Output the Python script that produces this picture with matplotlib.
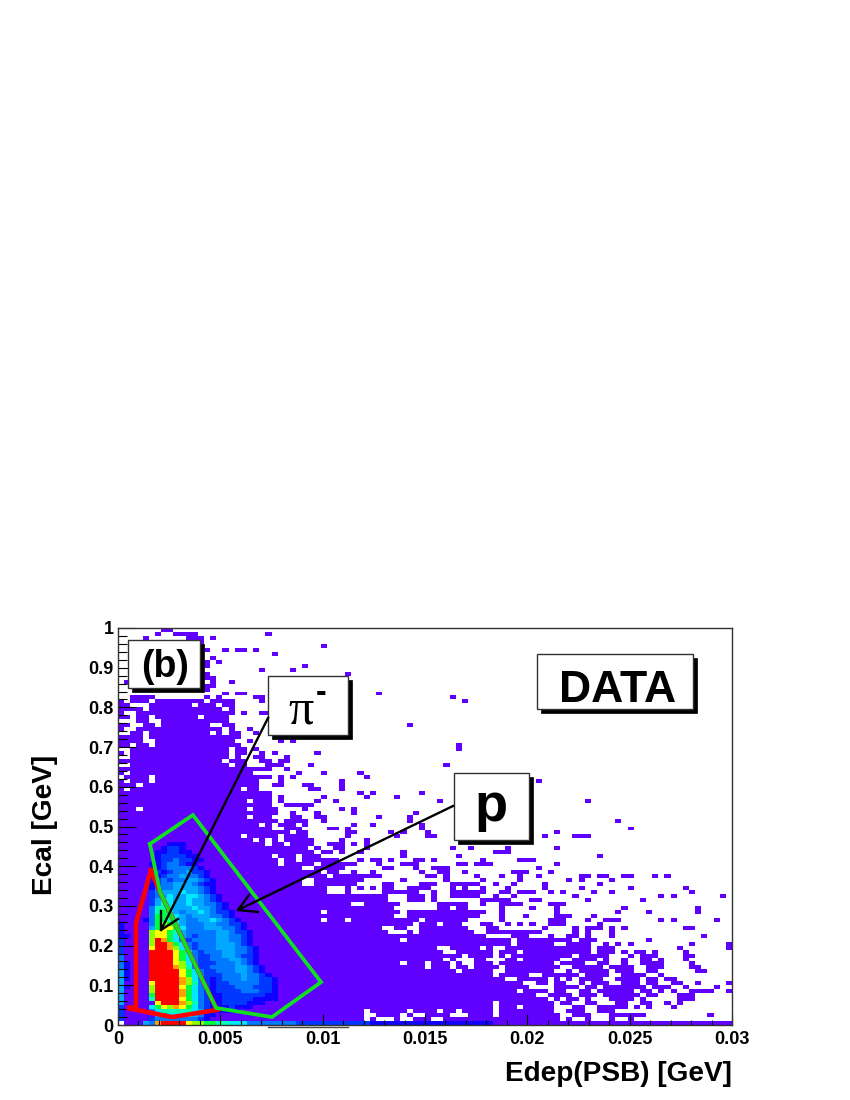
import numpy as np
import matplotlib
matplotlib.use("Agg")
import matplotlib.pyplot as plt
from matplotlib.colors import ListedColormap
from matplotlib.patches import Rectangle
from matplotlib.ticker import MultipleLocator

plt.rcParams['font.family'] = ['Liberation Sans', 'DejaVu Sans']

# occupied cells of the 100x100 histogram, row 99 (top) down to row 0, as column runs
OCCUPIED = [
    "7-8",
    "6 9-12 24",
    "4 11-13 15",
    "13",
    "13 33",
    "14 17 19-20 22",
    "25",
    "15",
    "14 16",
    "14 30",  # row 90
    "23 28",
    "14 37",
    "14-15",
    "1 15 18",
    "14-15",
    "14",
    "17 19-20 42",
    "2-5 14 16 22-23 54",
    "0 2-4 6-13 15-17 18 23 56",
    "0-1 5-11 13-15 17-18",  # row 80
    "0-3 5-13 14-16 18",
    "0 3-5 6-15 16-18 20 23-24",
    "0-1 3-4 6-12 14-17",
    "3-4 7-17",
    "0-1 4-5 7-14 17-18 47",
    "0 3-16 18 21",
    "2-3 5-14 16 18-19 22",
    "0-3 5-18 19",
    "0-3 6-18 21 26 28",
    "0-1 3-4 6-19 55",  # row 70
    "2-17 19-20 22 55",
    "0 2-17 19-20 23 25 32",
    "2-17 19 22-23 27",
    "0-1 2-16 18-20 23-24 26-27",
    "2-17 19-20 24-26 31 53",
    "0-1 2-24 27",
    "0 2-21 29 33 39",
    "1-4 6-23 24 26 28 40",
    "0 2-4 6-22 26 36 68",
    "0-2 4-18 19-22 25-26 30-31 36",  # row 60
    "0 2-19 21-22 31-32 36",
    "0-24 39 41 49",
    "0-24 26 33 40 45",
    "0-20 22-24 26 32 35 52 76",
    "0-24 27-31",
    "0-2 4-20 22-25 30 36 38",
    "0-25 28 32 38 48",
    "0-20 22-24 28-29 32-33 42 47",
    "0-25 27-30 33 47 81",
    "0-22 24 26-28 30 38 41 49",  # row 50
    "0-24 27-29 34-35 37 49 83",
    "0-25 26-27 29-30 37-38 44 46 50 71",
    "0-19 21-25 27-30 37 45 50-51 69 74-76",
    "0-21 23 25 27-31 36 40",
    "0-23 25-26 28-31 34-36 38 40",
    "0-30 32 35-36 40 54 57 63 71",
    "0-31 33-34 36 39 46 61-63",
    "0-24 26-28 30-32 46 55 78",
    "0-25 27-28 30-35 39 41-42 44 48-49 51 59 65-67",
    "0-25 27-31 33-38 42 46-48 55-56 58-60 71",  # row 40
    "0-29 32-36 43-44 48 51-53 68",
    "0-32 34-35 38 41 49 52-53 56 64-66 70",
    "0-33 35-42 50-51 53 58 62 65 68 75-76 78-79 82-83 87 89",
    "0-29 32-39 46 53 59 65 73 75 80",
    "0-29 32-38 43-44 49-51 54-58 61 64 69 78",
    "0-33 37 39 41 43-44 47-50 54 56 59 63 69 75 83 92",
    "0-33 37 43-48 51 54-59 62-63 65-67 70 72 77 80 93",
    "0-43 47-49 51 54-58 61 64 74 88 90 98",
    "0-43 47-49 51 59-61 62-63 67-68 76 85",
    "0-37 40-45 52-56 59 62-65 70-72",  # row 30
    "0-44 52-53 55-56 62 67 71 82 94",
    "0-32 34-45 47-59 62 71 81 86 94",
    "0-44 47-58 62 66 71-73 77",
    "0-32 34-36 38-48 50-56 62 70-72 76 79-81 88 90 97",
    "0-47 49-51 53-55 59-60 63 65 67 70-72 78",
    "0-42 45-46 49-56 60-61 69 74 76-78 80 82 92-93",
    "0-43 47 49-57 60-68 74 76 80",
    "0-59 64-66 70 73-74 76 80 95",
    "0-45 47-63 65-73 75-77 86",
    "0-63 65-70 73-76 79 81 83 93 99",  # row 20
    "0-51 54-58 60 63-73 74-76 78-80 91 99",
    "0-52 55-60 62-64 66-76 78-80 82 84-85 87 92",
    "0-55 57-60 62 64-73 75-79 83 85-87 92-93",
    "0-52 54 58-59 63-64 66-71 74-77 79 82 85-86 88 92",
    "0-45 47-49 51-53 55 58-60 62-70 72-75 78-79 82 85-88 93",
    "0-49 51-53 55-56 58-61 63-71 74-78 80-83 86-88 93-94",
    "0-54 56-60 63-70 73 75-79 81-83 86-87 94-95",
    "0-60 62-66 69-74 76-79 82-85 88",
    "0-62 65-69 71 73 75-78 81-84 86-87 89-90",
    "0-65 68-69 71-72 75 77-79 82-84 86-87 90-91 94 99",  # row 10
    "0-66 71-74 76-77 79-85 87-89 92 97",
    "0-64 66-69 71 72 75-76 78-83 85-86 88 90 93-94 95-96 99",
    "0-67 70-73 75-77 79-84 86-87 91-93",
    "0-69 71 73-74 76 80-83 85 91-93",
    "0-60 62-70 72-73 76-77 81-82 85-86 89 91",
    "0-60 62-64 66-70 74-75 78-82 84 86 90",
    "0-39 41-46 48-51 53-54 56-60 62-70 73-75 78-80",
    "0-39 42-45 47 50-53 57-60 62-71 74-76 80-83 84-85 96",
    "0-39 41 45 48-50 53-71 73 76 80 83",
    "0-99",  # row 0
]

# colour level of the dense core, row 45 down to row 0, starting at column 0
# '.' keeps the plain occupied colour
CORE = [
    "........bbb",
    ".......bccb",
    "......bbccbb",
    "......bccccbb",
    "......bccdccbb",
    ".....bbcddcbb",
    ".....bbcddddcb",
    ".....bcbcddeccb",
    ".....bbcddeddcb",
    ".....bcdcddeedcb",
    ".....bcddeeedcbb",
    ".....bdddeeeedcb",
    ".....cdeeefeedcb",
    ".....cdefeeffedcb",
    ".....cegfeefeedcb",
    ".....cegfeefeeddcb",
    ".....dggfeeefeedcb",
    ".....dghfedeefedccb",
    ".....dhhgfedeeeddcb",
    "....bdhhgfeddeefedcb",
    "b....dhihgedddeeddccb",
    "b....ehjjhfdddeeeddcb",
    "b....ijjhgedddddeedccb",
    "bb...ijjhfedcdddeeddcb",
    "c....imkhfdcddddeeddcb",
    "c....immkhfdcdddeeedcb",
    "c....jmmkifdcdddeeeddcb",
    "c....mmmmjhfdcdddeeddcb",
    "d....mmmmjhfdccddeedccb",
    "d....mmmmjhfdccdddeedcb",
    "db...mmmmjifdcccdddedcb",
    "db...mmmmkigdccddddeedcb",
    "eb...mmmmmjhfdccdddeedcb",
    "eb...mmmmmjhfdcccdddeddcb",
    "eb...mmmmmkifdcbcdddeddccb",
    "e....jmmmmkigdcbccdddddccb",
    "eb...immmmjhfdcbcccdddcccb",
    "e....immmmkhfdcbccccdddccb",
    "e....hmmmmkhfdcbbcccccccbb",
    "e....gmmmmjhfdcbbcccccbbbb",
    "e.....jmmmkigdcbbccccbbb",
    "c....fhjikjhfdcbbbcbbb",
    "c....dfgggggfecbbbbb",
    "c.....eeffffedbb",
    "c....cdddddddcb",
    "....edkmmmmjiihhggfffdddddddd" + "c" * 12 + "b" * 20,
]

LEVELS = ".abcdefghijkm"
PALETTE = ["#6000ff", "#1000ff", "#0038ff", "#0078ff", "#00a8ff", "#00e8ff",
           "#00ffb0", "#00ff40", "#90ff00", "#ffff00", "#ffa000", "#ff0000"]

GREEN_X = [0.00156, 0.00366, 0.00992, 0.00752, 0.00479, 0.00205, 0.00156]
GREEN_Y = [0.456, 0.529, 0.108, 0.020, 0.043, 0.335, 0.456]
RED_X = [0.00161, 0.00088, 0.00088, 0.00044, 0.00264, 0.00484, 0.00205, 0.00161]
RED_Y = [0.390, 0.257, 0.045, 0.043, 0.020, 0.038, 0.335, 0.390]

X_TICKS = [0, 0.005, 0.01, 0.015, 0.02, 0.025, 0.03]
X_LABELS = ["0", "0.005", "0.01", "0.015", "0.02", "0.025", "0.03"]
Y_TICKS = [0, 0.1, 0.2, 0.3, 0.4, 0.5, 0.6, 0.7, 0.8, 0.9, 1]
Y_LABELS = ["0", "0.1", "0.2", "0.3", "0.4", "0.5", "0.6", "0.7", "0.8", "0.9", "1"]

grid = np.zeros((100, 100), dtype=int)
for k, row in enumerate(OCCUPIED):
    for run in row.split():
        parts = run.split("-")
        grid[99 - k, int(parts[0]):int(parts[-1]) + 1] = 1
for k, row in enumerate(CORE):
    for j, c in enumerate(row):
        if c != ".":
            grid[45 - k, j] = LEVELS.index(c)
grid[0, 0] = 0

fig = plt.figure(figsize=(8.5, 11), dpi=100)
ax = fig.add_axes([118 / 850, 75 / 1100, 614 / 850, 397 / 1100])
xedges = np.linspace(0, 0.03, 101)
yedges = np.linspace(0, 1, 101)
ax.pcolormesh(xedges, yedges, np.ma.masked_equal(grid, 0), cmap=ListedColormap(PALETTE),
              vmin=0.5, vmax=12.5, antialiased=False, linewidth=0, rasterized=True)
ax.plot(RED_X, RED_Y, color="#ff0000", lw=3.3, solid_joinstyle="miter", zorder=3)
ax.plot(GREEN_X, GREEN_Y, color="#10e020", lw=2.7, solid_joinstyle="miter", zorder=4)

ax.set_xlim(0, 0.03)
ax.set_ylim(0, 1)
ax.set_xticks(X_TICKS)
ax.set_xticklabels(X_LABELS, fontsize=13, fontweight="bold")
ax.set_yticks(Y_TICKS)
ax.set_yticklabels(Y_LABELS, fontsize=13, fontweight="bold")
ax.xaxis.set_minor_locator(MultipleLocator(0.001))
ax.yaxis.set_minor_locator(MultipleLocator(0.02))
ax.tick_params(which="major", axis="x", direction="in", length=8, width=0.8, pad=4)
ax.tick_params(which="minor", axis="x", direction="in", length=3.5, width=0.8)
ax.tick_params(which="major", axis="y", direction="in", length=13, width=0.8, pad=3)
ax.tick_params(which="minor", axis="y", direction="in", length=6.5, width=0.8)
for s in ax.spines.values():
    s.set_linewidth(1)
    s.set_color("#333333")
    s.set_zorder(6)

# overlay in figure pixels for the boxes, arrows and titles
ov = fig.add_axes([0, 0, 1, 1], facecolor="none")
ov.set_xlim(0, 850)
ov.set_ylim(1100, 0)
ov.axis("off")


def box(x0, y0, x1, y1, shadow=4):
    ov.add_patch(Rectangle((x0 + shadow, y0 + shadow), x1 - x0, y1 - y0, fc="black", ec="black", lw=0.5))
    ov.add_patch(Rectangle((x0, y0), x1 - x0, y1 - y0, fc="white", ec="#333333", lw=1))


def arrow(x0, y0, x1, y1, bx0, by0, bx1, by1):
    ov.plot([x0, x1], [y0, y1], color="black", lw=1.7)
    ov.plot([bx0, x1, bx1], [by0, y1, by1], color="black", lw=1.7)


arrow(268, 718, 161, 930, 161, 911, 178, 919)
arrow(453, 806, 238, 910, 249, 895, 258, 912)

box(128, 640, 200, 688)
ov.text(165, 667, "(b)", fontsize=27, fontweight="bold", ha="center", va="center")
box(268, 676, 348, 735)
ov.text(301, 711, "\u03c0", fontsize=36, family="Liberation Serif", ha="center", va="center")
ov.text(321, 693, "-", fontsize=23, fontweight="bold", ha="center", va="center")
box(454, 773, 529, 840)
ov.text(491, 807, "p", fontsize=39, fontweight="bold", ha="center", va="center")
box(537, 654, 693, 709)
ov.text(618, 691, "DATA", fontsize=32, fontweight="bold", ha="center", va="center")

ov.plot([268, 348], [1027, 1027], color="#444444", lw=1)

ov.text(732, 1074, "Edep(PSB) [GeV]", fontsize=20.2, fontweight="bold", ha="right", va="center")
ov.text(45, 825, "Ecal [GeV]", fontsize=20.2, fontweight="bold", rotation=90, ha="center", va="center")

fig.savefig("out.png", dpi=100)
